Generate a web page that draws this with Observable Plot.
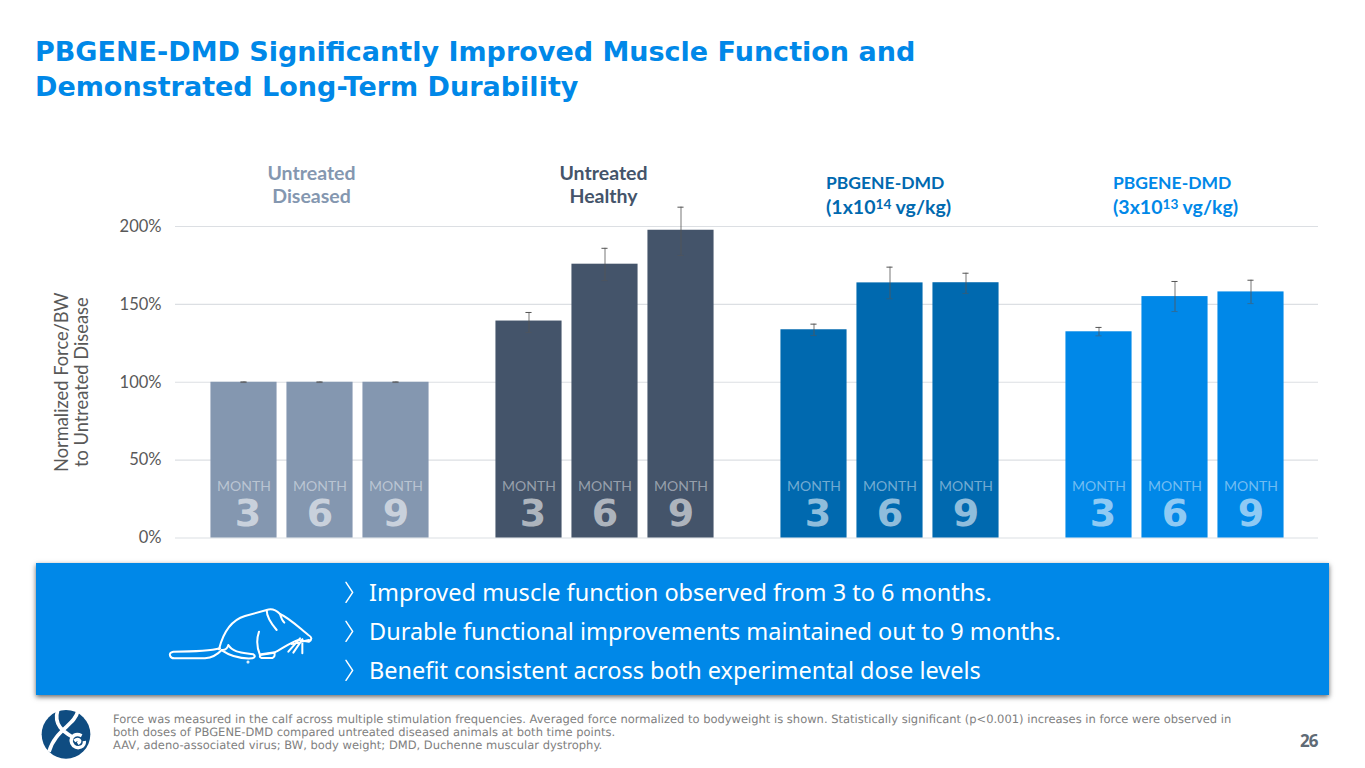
<!DOCTYPE html>
<html><head><meta charset="utf-8">
<script src="https://cdn.jsdelivr.net/npm/d3@7"></script>
<script src="https://cdn.jsdelivr.net/npm/@observablehq/plot@0.6"></script>
<style>
html,body{margin:0;padding:0;background:#fff;width:1365px;height:768px;overflow:hidden}
#page{position:relative;width:1365px;height:768px}
#page>*{position:absolute}
#title{left:35px;top:34px;font:bold 27px/35px "DejaVu Sans";color:#0088e8;white-space:nowrap}
#chart{left:0;top:150px}
#box{left:36px;top:563px;width:1293px;height:132px;background:#0088e8;box-shadow:0 2px 5px rgba(0,0,0,.6)}
.b{left:369px;color:#fff;font:23.5px/30px "Noto Sans";white-space:nowrap}
#foot{left:113px;top:713px;font:11.5px/13px "DejaVu Sans";color:#808080;white-space:nowrap;text-rendering:geometricPrecision}
#pg{left:1300px;top:731px;font:bold 17px/20px "Noto Sans";color:#5f6b76;letter-spacing:-1px}
#art{left:20px;top:555px}
</style></head><body>
<div id="page">
<div id="title">PBGENE-DMD Significantly Improved Muscle Function and<br>Demonstrated Long-Term Durability</div>
<div id="chart"></div>
<div id="box"></div>
<svg id="art" width="500" height="210" viewBox="0 0 1500 630" fill="none" stroke="#fff" stroke-width="6" stroke-linecap="round" stroke-linejoin="round">
<g transform="translate(435,135)">
<path d="M165 145 Q130 155 25 155 Q12 158 15 167 Q18 176 30 175 H120 Q150 172 170 150"/>
<path d="M162 148 C175 95 200 60 240 48 L305 30 Q325 22 345 42 C375 55 410 90 430 105 Q447 115 432 125 L400 120 C380 125 345 150 330 157 L288 163"/>
<path d="M170 150 Q185 152 190 135 C205 160 240 158 265 163 Q275 170 262 175 Q210 178 172 152"/>
<path d="M285 165 Q270 130 282 95"/>
<path d="M285 165 L328 158 Q332 170 322 174 H290 Q283 172 285 165"/>
<path d="M305 30 Q305 55 335 90 M345 42 Q350 60 358 68"/>
<path d="M370 155 L405 115 M385 158 L412 118 M412 160 L412 118 M380 132 L432 120"/>
<circle cx="249" cy="186" r="1.5" fill="#fff"/>
</g>
<g stroke-width="4.5"><path d="M978 82 L998 112 L978 142"/><path d="M978 199 L998 229 L978 259"/><path d="M978 316 L998 346 L978 376"/></g>
<g transform="translate(45,450)">
<circle cx="93" cy="88" r="73" fill="#0f4c81" stroke="none"/>
<path stroke-width="11" stroke-linecap="butt" d="M68 16 C55 60 85 80 112 96 M128 20 C120 60 60 75 42 140"/>
<path stroke-width="10" stroke-linecap="butt" d="M140 92 C115 80 100 105 115 122 C130 135 150 125 148 108 M118 108 C130 98 142 108 128 116"/>
</g>
</svg>
<div class="b" style="top:577px">Improved muscle function observed from 3 to 6 months.</div>
<div class="b" style="top:616px">Durable functional improvements maintained out to 9 months.</div>
<div class="b" style="top:655px">Benefit consistent across both experimental dose levels</div>
<div id="foot">Force was measured in the calf across multiple stimulation frequencies. Averaged force normalized to bodyweight is shown. Statistically significant (p&lt;0.001) increases in force were observed in<br>both doses of PBGENE-DMD compared untreated diseased animals at both time points.<br>AAV, adeno-associated virus; BW, body weight; DMD, Duchenne muscular dystrophy.</div>
<div id="pg">26</div>
</div>
<script>
const groups = ["Untreated\nDiseased", "Untreated\nHealthy", "PBGENE-DMD\n(1x10^14 vg/kg)", "PBGENE-DMD\n(3x10^13 vg/kg)"];
const groupColors = ["#8497b0", "#44546a", "#0069af", "#0088e8"];
const months = ["3", "6", "9"];
const meanValues = [[100,100,100],[139.3,175.8,197.6],[133.7,163.8,163.9],[132.4,155,158]];
const errorHigh = [[100.2,100.2,100.2],[144.8,186,212.4],[137.3,173.9,170],[135.2,164.7,165.5]];
const errorLow = [[99.8,99.8,99.8],[132,165.3,181.4],[130,153.6,157],[129.8,145.4,150.5]];
const yTicks = [0,50,100,150,200];
const yAxisLabel = "Normalized Force/BW\nto Untreated Disease";

const rows = groups.flatMap((group,g) => months.map((month,m) => ({
  group, month, value: meanValues[g][m], high: errorHigh[g][m], low: errorLow[g][m]
})));
const narrow = "Lato";
const gridStyle = {y: d => d, stroke: "#dcdfe3", strokeWidth: 1.2};
const grid = (g, extra) => Plot.ruleY(yTicks, {...gridStyle, fx: () => groups[g], ...extra});
const groupLabel = (g, extra) => Plot.text([groups[g]], {fx: d => d, text: d => d, frameAnchor: "top", lineAnchor: "top",
  fill: d => d, fontFamily: narrow, fontWeight: "bold", ...extra});
const digit = (data, dx) => Plot.text(data, {fx: "group", x: "month", y: 0, text: "month", dx, dy: -24, fill: "#fff", fillOpacity: 0.58, fontFamily: "DejaVu Sans", fontWeight: "bold", fontSize: 38});
const plot = Plot.plot({
  width: 1365, height: 400,
  marginTop: 76, marginBottom: 12.5, marginLeft: 177, marginRight: 48,
  style: {background: "transparent", overflow: "visible"},
  fx: {domain: groups, padding: 0, axis: null},
  x: {domain: months, padding: 0.13, paddingOuter: 0.44, round: false, axis: null},
  y: {domain: [0,200], axis: null},
  color: {domain: groups, range: groupColors},
  marks: [
    grid(0, {insetLeft: -2}), grid(1), grid(2), grid(3, {insetRight: -1}),
    Plot.barY(rows, {fx: "group", x: "month", y: "value", fill: "group"}),
    Plot.ruleX(rows, {fx: "group", x: "month", y1: "low", y2: "high", stroke: "#555", strokeOpacity: 0.8}),
    Plot.tickY(rows, {fx: "group", x: "month", y: "high", stroke: "#555", insetLeft: 30, insetRight: 30}),
    Plot.tickY(rows, {fx: "group", x: "month", y: "low", stroke: "#555", strokeOpacity: 0.5, insetLeft: 30, insetRight: 30}),
    Plot.text(rows, {fx: "group", x: "month", y: 0, text: () => "MONTH", dy: -51, fill: "#fff", fillOpacity: 0.45, fontFamily: narrow, fontSize: 14}),
    digit(rows.filter(d => d.month === "3"), 4),
    digit(rows.filter(d => d.month !== "3"), 0),
    groupLabel(0, {dx: -8.5, dy: -63, fontSize: 19.5, lineHeight: 1.18}),
    groupLabel(1, {dx: -1.5, dy: -63, fontSize: 19.5, lineHeight: 1.18}),
    groupLabel(2, {dx: -64, dy: -54, fontSize: 17.5, lineHeight: 1.3, textAnchor: "start"}),
    groupLabel(3, {dx: -62, dy: -54, fontSize: 17.5, lineHeight: 1.3, textAnchor: "start"}),
    Plot.axisY({anchor: "left", ticks: yTicks, tickSize: 0, tickPadding: 16, tickFormat: d => d + "%", label: null,
      fill: "#595959", fontFamily: narrow, fontSize: 16.5}),
    Plot.text([yAxisLabel], {text: d => d, facet: "super", frameAnchor: "left", textAnchor: "middle", dx: -106, rotate: -90, lineHeight: 1.1, fill: "#595959", fontFamily: narrow, fontSize: 18.3})
  ]
});
// Set the dose exponents as true superscripts inside the group labels.
d3.select(plot).selectAll("text, tspan").filter(function() {
  return !this.children.length && this.textContent.includes("^");
}).each(function() {
  const [head, tail] = this.textContent.split("^");
  const el = d3.select(this).text(null).attr("font-size", 19.5);
  el.append("tspan").text(head);
  el.append("tspan").attr("dy", "-0.4em").attr("font-size", "0.7em").text(tail.slice(0, 2));
  el.append("tspan").attr("dy", "0.28em").text(tail.slice(2));
});
document.getElementById("chart").append(plot);
</script>
</body></html>
